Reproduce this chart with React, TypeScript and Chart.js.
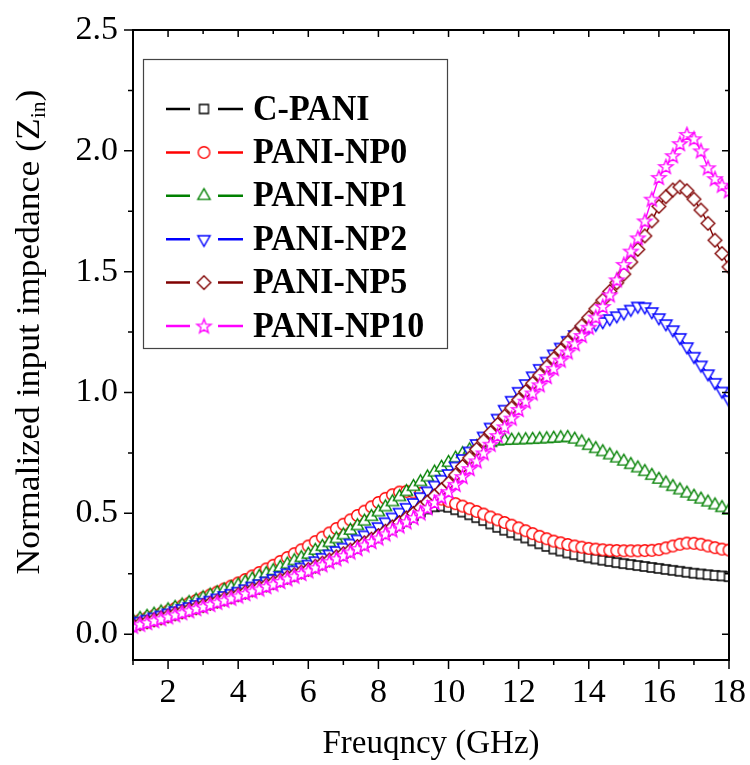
import React, { useEffect, useRef } from "react";
import { Chart, registerables } from "chart.js";

Chart.register(...registerables);

const freq = [
  1.0, 1.2, 1.4, 1.6, 1.8, 2.0, 2.2, 2.4, 2.6, 2.8, 3.0, 3.2, 3.4, 3.6, 3.8,
  4.0, 4.2, 4.4, 4.6, 4.8, 5.0, 5.2, 5.4, 5.6, 5.8, 6.0, 6.2, 6.4, 6.6, 6.8,
  7.0, 7.2, 7.4, 7.6, 7.8, 8.0, 8.2, 8.4, 8.6, 8.8, 9.0, 9.2, 9.4, 9.6, 9.8,
  10.0, 10.2, 10.4, 10.6, 10.8, 11.0, 11.2, 11.4, 11.6, 11.8, 12.0, 12.2, 12.4, 12.6, 12.8,
  13.0, 13.2, 13.4, 13.6, 13.8, 14.0, 14.2, 14.4, 14.6, 14.8, 15.0, 15.2, 15.4, 15.6, 15.8,
  16.0, 16.2, 16.4, 16.6, 16.8, 17.0, 17.2, 17.4, 17.6, 17.8, 18.0,
];

const cPani = [
  0.040, 0.047, 0.055, 0.063, 0.070, 0.078, 0.086, 0.095, 0.103, 0.112, 0.120, 0.129, 0.138, 0.147, 0.156,
  0.165, 0.175, 0.185, 0.195, 0.205, 0.215, 0.226, 0.237, 0.248, 0.259, 0.270, 0.283, 0.296, 0.309, 0.322,
  0.335, 0.350, 0.365, 0.380, 0.395, 0.410, 0.426, 0.442, 0.458, 0.474, 0.490, 0.505, 0.518, 0.527, 0.530,
  0.525, 0.515, 0.505, 0.494, 0.482, 0.470, 0.456, 0.442, 0.430, 0.420, 0.410, 0.398, 0.386, 0.374, 0.363,
  0.352, 0.344, 0.336, 0.329, 0.322, 0.316, 0.311, 0.306, 0.301, 0.296, 0.292, 0.288, 0.284, 0.280, 0.276,
  0.272, 0.268, 0.264, 0.260, 0.256, 0.252, 0.249, 0.246, 0.243, 0.241, 0.238,
];

const np0 = [
  0.050, 0.058, 0.067, 0.076, 0.085, 0.095, 0.106, 0.117, 0.128, 0.139, 0.150, 0.162, 0.174, 0.187, 0.199,
  0.212, 0.226, 0.241, 0.255, 0.270, 0.285, 0.301, 0.317, 0.333, 0.349, 0.365, 0.383, 0.401, 0.419, 0.437,
  0.455, 0.473, 0.491, 0.509, 0.527, 0.545, 0.562, 0.577, 0.588, 0.591, 0.588, 0.582, 0.576, 0.568, 0.559,
  0.550, 0.540, 0.530, 0.519, 0.508, 0.497, 0.485, 0.473, 0.462, 0.451, 0.440, 0.428, 0.416, 0.405, 0.395,
  0.385, 0.378, 0.371, 0.365, 0.360, 0.355, 0.352, 0.349, 0.347, 0.346, 0.345, 0.345, 0.345, 0.346, 0.347,
  0.350, 0.357, 0.365, 0.372, 0.377, 0.376, 0.372, 0.365, 0.358, 0.352, 0.348,
];

const np1 = [
  0.055, 0.064, 0.073, 0.082, 0.091, 0.100, 0.110, 0.120, 0.130, 0.140, 0.150, 0.161, 0.171, 0.182, 0.192,
  0.203, 0.215, 0.227, 0.238, 0.250, 0.262, 0.276, 0.289, 0.303, 0.316, 0.330, 0.346, 0.362, 0.378, 0.394,
  0.410, 0.429, 0.448, 0.467, 0.486, 0.505, 0.526, 0.547, 0.568, 0.589, 0.610, 0.630, 0.650, 0.670, 0.690,
  0.710, 0.728, 0.746, 0.762, 0.775, 0.785, 0.792, 0.798, 0.801, 0.802, 0.803, 0.804, 0.805, 0.807, 0.808,
  0.810, 0.812, 0.813, 0.806, 0.795, 0.780, 0.767, 0.754, 0.741, 0.728, 0.715, 0.701, 0.687, 0.672, 0.656,
  0.640, 0.625, 0.610, 0.596, 0.583, 0.570, 0.558, 0.546, 0.534, 0.523, 0.512,
];

const np2 = [
  0.045, 0.054, 0.062, 0.071, 0.079, 0.088, 0.097, 0.106, 0.114, 0.123, 0.132, 0.141, 0.150, 0.160, 0.169,
  0.178, 0.188, 0.199, 0.209, 0.220, 0.230, 0.242, 0.254, 0.266, 0.278, 0.290, 0.304, 0.318, 0.332, 0.346,
  0.360, 0.377, 0.394, 0.411, 0.428, 0.445, 0.465, 0.485, 0.505, 0.525, 0.545, 0.569, 0.593, 0.617, 0.641,
  0.665, 0.696, 0.727, 0.758, 0.789, 0.820, 0.857, 0.894, 0.931, 0.968, 1.005, 1.037, 1.069, 1.100, 1.130,
  1.160, 1.188, 1.216, 1.240, 1.258, 1.272, 1.283, 1.294, 1.306, 1.318, 1.330, 1.345, 1.358, 1.355, 1.335,
  1.310, 1.285, 1.260, 1.228, 1.190, 1.150, 1.114, 1.078, 1.042, 1.006, 0.970,
];

const np5 = [
  0.035, 0.043, 0.051, 0.059, 0.067, 0.075, 0.084, 0.092, 0.101, 0.109, 0.118, 0.127, 0.136, 0.145, 0.154,
  0.163, 0.173, 0.183, 0.193, 0.203, 0.213, 0.224, 0.235, 0.246, 0.257, 0.268, 0.281, 0.294, 0.307, 0.320,
  0.333, 0.348, 0.363, 0.378, 0.393, 0.408, 0.426, 0.444, 0.462, 0.481, 0.500, 0.523, 0.547, 0.572, 0.598,
  0.625, 0.659, 0.694, 0.729, 0.765, 0.800, 0.834, 0.868, 0.902, 0.936, 0.970, 1.004, 1.038, 1.072, 1.106,
  1.140, 1.174, 1.208, 1.242, 1.276, 1.310, 1.346, 1.382, 1.418, 1.454, 1.490, 1.540, 1.592, 1.648, 1.710,
  1.770, 1.810, 1.838, 1.850, 1.835, 1.800, 1.755, 1.700, 1.630, 1.575, 1.520,
];

const np10 = [
  0.033, 0.041, 0.048, 0.056, 0.064, 0.072, 0.080, 0.089, 0.097, 0.106, 0.114, 0.123, 0.132, 0.140, 0.149,
  0.158, 0.168, 0.178, 0.187, 0.197, 0.207, 0.218, 0.229, 0.240, 0.251, 0.262, 0.275, 0.287, 0.300, 0.312,
  0.325, 0.340, 0.354, 0.369, 0.383, 0.398, 0.415, 0.431, 0.448, 0.465, 0.482, 0.502, 0.523, 0.545, 0.567,
  0.590, 0.620, 0.652, 0.685, 0.717, 0.750, 0.786, 0.822, 0.858, 0.894, 0.930, 0.964, 0.998, 1.032, 1.066,
  1.100, 1.134, 1.168, 1.202, 1.236, 1.270, 1.312, 1.356, 1.404, 1.466, 1.530, 1.585, 1.640, 1.710, 1.800,
  1.890, 1.935, 1.980, 2.030, 2.068, 2.050, 2.000, 1.930, 1.885, 1.858, 1.835,
];

const seriesNames = ["C-PANI", "PANI-NP0", "PANI-NP1", "PANI-NP2", "PANI-NP5", "PANI-NP10"];
const seriesValues = [cPani, np0, np1, np2, np5, np10];
const seriesColors = ["#000000", "#ff0000", "#008000", "#0000ff", "#800000", "#ff00ff"];
const seriesShapes = ["square", "circle", "triangle", "triangleDown", "diamond", "star"];

const xTicks = [2, 4, 6, 8, 10, 12, 14, 16, 18];
const xMinorTicks = [1, 3, 5, 7, 9, 11, 13, 15, 17];
const yTicks = [0, 0.5, 1.0, 1.5, 2.0, 2.5];
const yMinorTicks = [0.25, 0.75, 1.25, 1.75, 2.25];

const FONT = "'Liberation Serif', 'Times New Roman', serif";

function makeMarker(shape: string, color: string): HTMLCanvasElement {
  const c = document.createElement("canvas");
  c.width = 19;
  c.height = 19;
  const g = c.getContext("2d")!;
  const cx = 9.5, cy = 9.5;
  g.beginPath();
  if (shape === "square") {
    g.rect(5, 5, 9, 9);
  } else if (shape === "circle") {
    g.arc(cx, cy, 5.8, 0, Math.PI * 2);
  } else if (shape === "triangle" || shape === "triangleDown") {
    const s = shape === "triangle" ? 1 : -1;
    const R = 7.1;
    g.moveTo(cx, cy - s * R);
    g.lineTo(cx + R * 0.866, cy + s * R * 0.5);
    g.lineTo(cx - R * 0.866, cy + s * R * 0.5);
    g.closePath();
  } else if (shape === "diamond") {
    const R = 6.8;
    g.moveTo(cx, cy - R);
    g.lineTo(cx + R, cy);
    g.lineTo(cx, cy + R);
    g.lineTo(cx - R, cy);
    g.closePath();
  } else if (shape === "star") {
    const R = 7.5, r = 3.1;
    for (let k = 0; k < 10; k++) {
      const rr = k % 2 === 0 ? R : r;
      const a = -Math.PI / 2 + (k * Math.PI) / 5;
      const px = cx + rr * Math.cos(a);
      const py = cy + 0.6 + rr * Math.sin(a);
      if (k === 0) g.moveTo(px, py);
      else g.lineTo(px, py);
    }
    g.closePath();
  }
  g.fillStyle = "#ffffff";
  g.fill();
  g.strokeStyle = color;
  g.lineWidth = 1.35;
  g.stroke();
  return c;
}

const framePlugin = {
  id: "frameAndLegend",
  afterDraw(chart: any) {
    const ctx = chart.ctx as CanvasRenderingContext2D;
    const { left, right, top, bottom } = chart.chartArea;
    const xs = chart.scales.x;
    const ys = chart.scales.y;
    ctx.save();
    ctx.strokeStyle = "#000";
    ctx.lineWidth = 2;
    ctx.strokeRect(left, top, right - left, bottom - top);
    ctx.lineWidth = 1.5;
    ctx.beginPath();
    for (const v of xTicks) {
      const p = xs.getPixelForValue(v);
      ctx.moveTo(p, bottom);
      ctx.lineTo(p, bottom + 9);
      ctx.moveTo(p, top);
      ctx.lineTo(p, top + 7);
    }
    for (const v of xMinorTicks) {
      const p = xs.getPixelForValue(v);
      ctx.moveTo(p, bottom);
      ctx.lineTo(p, bottom + 5);
      ctx.moveTo(p, top);
      ctx.lineTo(p, top + 4);
    }
    for (const v of yTicks) {
      const p = ys.getPixelForValue(v);
      ctx.moveTo(left, p);
      ctx.lineTo(left - 9, p);
      ctx.moveTo(right, p);
      ctx.lineTo(right - 7, p);
    }
    for (const v of yMinorTicks) {
      const p = ys.getPixelForValue(v);
      ctx.moveTo(left, p);
      ctx.lineTo(left - 5, p);
      ctx.moveTo(right, p);
      ctx.lineTo(right - 4, p);
    }
    ctx.stroke();

    // y-axis title with subscript
    ctx.save();
    ctx.translate(0, 332);
    ctx.scale(1, 1.08);
    ctx.rotate(-Math.PI / 2);
    ctx.fillStyle = "#000";
    ctx.textBaseline = "alphabetic";
    ctx.textAlign = "left";
    const main = "Normalized input impedance (Z";
    const sub = "in";
    const close = ")";
    ctx.font = `33px ${FONT}`;
    const w1 = ctx.measureText(main).width;
    const w3 = ctx.measureText(close).width;
    ctx.font = `20px ${FONT}`;
    const w2 = ctx.measureText(sub).width;
    const total = w1 + w2 + w3;
    let x0 = -total / 2;
    const base = 39;
    ctx.font = `33px ${FONT}`;
    ctx.fillText(main, x0, base);
    x0 += w1;
    ctx.font = `20px ${FONT}`;
    ctx.fillText(sub, x0, base + 6);
    x0 += w2;
    ctx.font = `33px ${FONT}`;
    ctx.fillText(close, x0, base);
    ctx.restore();

    // legend
    const bx = 143.5, by = 59.5, bw = 304, bh = 289;
    ctx.fillStyle = "#fff";
    ctx.fillRect(bx, by, bw, bh);
    ctx.strokeStyle = "#444";
    ctx.lineWidth = 1.2;
    ctx.strokeRect(bx, by, bw, bh);
    chart.data.datasets.forEach((ds: any, i: number) => {
      const ry = 109 + i * 43.4;
      ctx.strokeStyle = ds.borderColor;
      ctx.lineWidth = 2.5;
      ctx.beginPath();
      ctx.moveTo(166, ry);
      ctx.lineTo(190, ry);
      ctx.moveTo(218, ry);
      ctx.lineTo(243, ry);
      ctx.stroke();
      const img = ds.pointStyle as HTMLCanvasElement;
      ctx.drawImage(img, 204 - img.width / 2, ry - img.height / 2);
      ctx.save();
      ctx.translate(253, ry);
      ctx.scale(1, 1.08);
      ctx.fillStyle = "#000";
      ctx.font = `bold 34px ${FONT}`;
      ctx.textBaseline = "middle";
      ctx.textAlign = "left";
      ctx.fillText(ds.label, 0, 1);
      ctx.restore();
    });
    ctx.restore();
  },
};

export default function App() {
  const ref = useRef<HTMLCanvasElement | null>(null);

  useEffect(() => {
    document.body.style.margin = "0";
    const canvas = ref.current;
    if (!canvas) return;
    const datasets = seriesNames.map((name, i) => ({
      label: name,
      data: freq.map((f, k) => ({ x: f, y: seriesValues[i][k] })),
      borderColor: seriesColors[i],
      backgroundColor: "#ffffff",
      borderWidth: 1.4,
      pointStyle: makeMarker(seriesShapes[i], seriesColors[i]),
      pointRadius: 6,
      pointHoverRadius: 6,
      tension: 0,
      order: seriesNames.length - 1 - i,
    }));
    const chart = new Chart(canvas, {
      type: "line",
      data: { datasets },
      options: {
        responsive: false,
        animation: false,
        devicePixelRatio: 1,
        layout: { padding: { top: 30, right: 21, left: 0, bottom: 0 } },
        plugins: { legend: { display: false }, tooltip: { enabled: false } },
        events: [],
        scales: {
          x: {
            type: "linear",
            min: 1,
            max: 18,
            grid: { display: false, drawTicks: true, tickLength: 9 },
            border: { display: false },
            afterBuildTicks: (s: any) => {
              s.ticks = xTicks.map((v) => ({ value: v }));
            },
            afterFit: (s: any) => {
              s.height = 105;
              s.paddingLeft = 0;
              s.paddingRight = 0;
            },
            ticks: {
              color: "#000",
              font: { family: FONT, size: 34 },
              padding: 4,
              maxRotation: 0,
              autoSkip: false,
            },
            title: {
              display: true,
              text: "Freuqncy (GHz)",
              color: "#000",
              font: { family: FONT, size: 33 },
              padding: { top: 0, bottom: 1 },
            },
          },
          y: {
            type: "linear",
            min: -0.107,
            max: 2.5,
            grid: { display: false, drawTicks: true, tickLength: 9 },
            border: { display: false },
            afterBuildTicks: (s: any) => {
              s.ticks = yTicks.map((v) => ({ value: v }));
            },
            afterFit: (s: any) => {
              s.width = 133;
              s.paddingTop = 0;
              s.paddingBottom = 0;
            },
            ticks: {
              color: "#000",
              font: { family: FONT, size: 34 },
              padding: 6,
              callback: (v: any) => Number(v).toFixed(1),
            },
          },
        },
      },
      plugins: [framePlugin],
    });
    return () => chart.destroy();
  }, []);

  return <canvas ref={ref} width={750} height={765} style={{ display: "block" }} />;
}
